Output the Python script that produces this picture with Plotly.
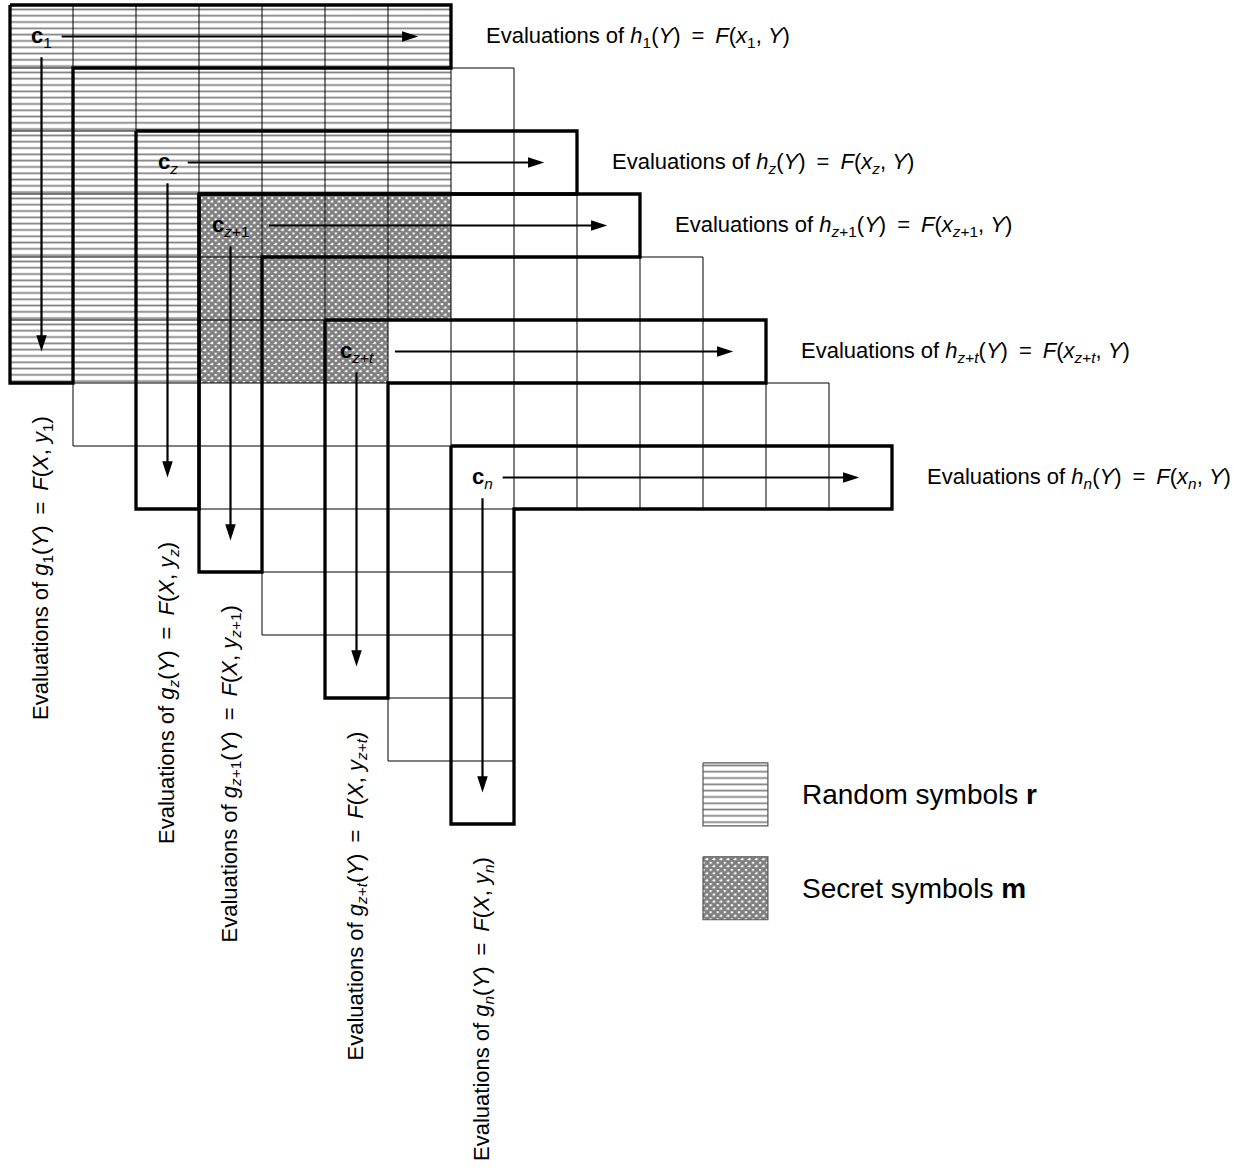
import plotly.graph_objects as go

# ---------------- data ----------------
N_L = 8            # number of L-shaped codewords
ROW_LEN = 7        # cells in the horizontal arm of each L
COL_LEN = 6        # cells in the vertical arm of each L
thick = [True, False, True, True, False, True, False, True]
c_labels = ["<b>c</b><sub>1</sub>", "", "<b>c</b><sub><i>z</i></sub>",
            "<b>c</b><sub><i>z</i>+1</sub>", "", "<b>c</b><sub><i>z</i>+<i>t</i></sub>",
            "", "<b>c</b><sub><i>n</i></sub>"]
EQ = "&#8194;=&#8194;"
h_labels = ["<i>h</i><sub>1</sub>(<i>Y</i>)" + EQ + "<i>F</i>(<i>x</i><sub>1</sub>, <i>Y</i>)", "",
            "<i>h<sub>z</sub></i>(<i>Y</i>)" + EQ + "<i>F</i>(<i>x<sub>z</sub></i>, <i>Y</i>)",
            "<i>h</i><sub><i>z</i>+1</sub>(<i>Y</i>)" + EQ + "<i>F</i>(<i>x</i><sub><i>z</i>+1</sub>, <i>Y</i>)", "",
            "<i>h</i><sub><i>z</i>+<i>t</i></sub>(<i>Y</i>)" + EQ + "<i>F</i>(<i>x</i><sub><i>z</i>+<i>t</i></sub>, <i>Y</i>)", "",
            "<i>h<sub>n</sub></i>(<i>Y</i>)" + EQ + "<i>F</i>(<i>x<sub>n</sub></i>, <i>Y</i>)"]
g_labels = ["<i>g</i><sub>1</sub>(<i>Y</i>)" + EQ + "<i>F</i>(<i>X</i>, <i>y</i><sub>1</sub>)", "",
            "<i>g<sub>z</sub></i>(<i>Y</i>)" + EQ + "<i>F</i>(<i>X</i>, <i>y<sub>z</sub></i>)",
            "<i>g</i><sub><i>z</i>+1</sub>(<i>Y</i>)" + EQ + "<i>F</i>(<i>X</i>, <i>y</i><sub><i>z</i>+1</sub>)", "",
            "<i>g</i><sub><i>z</i>+<i>t</i></sub>(<i>Y</i>)" + EQ + "<i>F</i>(<i>X</i>, <i>y</i><sub><i>z</i>+<i>t</i></sub>)", "",
            "<i>g<sub>n</sub></i>(<i>Y</i>)" + EQ + "<i>F</i>(<i>X</i>, <i>y<sub>n</sub></i>)"]
LABEL_PREFIX = "Evaluations of "
# hatched regions, per row: [col_start, col_end)
random_rows = [0, 1, 2, 3, 4, 5]
random_col_start = [0, 0, 0, 0, 0, 0]
random_col_end = [7, 7, 7, 3, 3, 3]
secret_rows = [3, 4, 5]
secret_col_start = [3, 3, 3]
secret_col_end = [7, 7, 6]
legend_labels = ["Random symbols <b>r</b>", "Secret symbols <b>m</b>"]

FONT = "Liberation Sans, Arial, sans-serif"
RANDOM_PAT = dict(shape="-", size=6.3, solidity=0.27, fgcolor="black", bgcolor="white")
SECRET_PAT = dict(shape="x", size=5, solidity=0.8, fgcolor="black", bgcolor="white")

fig = go.Figure()


def rect(x0, x1, y0, y1):
    return [x0, x1, x1, x0, x0], [y0, y0, y1, y1, y0]


def add_fill(xs, ys, pat):
    fig.add_trace(go.Scatter(x=xs, y=ys, mode="lines", fill="toself", line=dict(width=0),
                             fillpattern=pat, hoverinfo="skip", showlegend=False))


for r, c0, c1 in zip(random_rows, random_col_start, random_col_end):
    add_fill(*rect(c0, c1, r, r + 1), RANDOM_PAT)
for r, c0, c1 in zip(secret_rows, secret_col_start, secret_col_end):
    add_fill(*rect(c0, c1, r, r + 1), SECRET_PAT)

# thin grid lines inside every L
gx, gy = [], []
for i in range(N_L):
    for k in range(1, ROW_LEN):
        gx += [i + k, i + k, None]
        gy += [i, i + 1, None]
    for k in range(1, COL_LEN):
        gx += [i, i + 1, None]
        gy += [i + k, i + k, None]
fig.add_trace(go.Scatter(x=gx, y=gy, mode="lines", line=dict(color="black", width=1),
                         hoverinfo="skip", showlegend=False))


def outline(i):
    xs = [i, i + ROW_LEN, i + ROW_LEN, i + 1, i + 1, i, i]
    ys = [i, i, i + 1, i + 1, i + COL_LEN, i + COL_LEN, i]
    return xs, ys


for i in range(N_L):
    if not thick[i]:
        xs, ys = outline(i)
        fig.add_trace(go.Scatter(x=xs, y=ys, mode="lines", line=dict(color="black", width=1),
                                 hoverinfo="skip", showlegend=False))
for i in range(N_L):
    if thick[i]:
        xs, ys = outline(i)
        fig.add_trace(go.Scatter(x=xs, y=ys, mode="lines", line=dict(color="black", width=3.3),
                                 hoverinfo="skip", showlegend=False))

# arrows: shafts + arrowheads
sx, sy, hx, hy, hang = [], [], [], [], []
for i in range(N_L):
    if not thick[i]:
        continue
    start = 1.11 if "+" in c_labels[i] else 0.82
    sx += [i + start, i + 6.36, None, i + 0.5, i + 0.5, None]
    sy += [i + 0.5, i + 0.5, None, i + 0.83, i + 5.38, None]
    hx += [i + 6.48, i + 0.5]
    hy += [i + 0.5, i + 5.5]
    hang += [90, 180]
fig.add_trace(go.Scatter(x=sx, y=sy, mode="lines", line=dict(color="black", width=2.2),
                         hoverinfo="skip", showlegend=False))
fig.add_trace(go.Scatter(x=hx, y=hy, mode="markers",
                         marker=dict(symbol="arrow", size=17, angle=hang, color="black",
                                     line=dict(width=0)),
                         hoverinfo="skip", showlegend=False))

# legend squares
LEG_X0, LEG_X1 = 11.0, 12.03
leg_y = [12.03, 13.52]
for yy, pat in zip(leg_y, [RANDOM_PAT, SECRET_PAT]):
    add_fill(*rect(LEG_X0, LEG_X1, yy, yy + 1.0), pat)
    xs, ys = rect(LEG_X0, LEG_X1, yy, yy + 1.0)
    fig.add_trace(go.Scatter(x=xs, y=ys, mode="lines", line=dict(color="#555", width=1.2),
                             hoverinfo="skip", showlegend=False))

ann = []
for i in range(N_L):
    if not thick[i]:
        continue
    ann.append(dict(x=i + 0.5, y=i + 0.5, text=c_labels[i], showarrow=False,
                    font=dict(size=22, family=FONT, color="black"),
                    xanchor="center", yanchor="middle"))
    ann.append(dict(x=i + ROW_LEN + 0.52, y=i + 0.5, text=LABEL_PREFIX + h_labels[i], showarrow=False,
                    font=dict(size=22, family=FONT, color="black"),
                    xanchor="left", yanchor="middle"))
    ann.append(dict(x=i + 0.5, y=i + COL_LEN + 0.5, text=LABEL_PREFIX + g_labels[i], showarrow=False,
                    textangle=-90, font=dict(size=22, family=FONT, color="black"),
                    xanchor="center", yanchor="top"))

for yy, lab in zip(leg_y, legend_labels):
    ann.append(dict(x=12.54, y=yy + 0.5, text=lab, showarrow=False,
                    font=dict(size=28, family=FONT, color="black"),
                    xanchor="left", yanchor="middle"))

W, H = 1249, 1176
CELL, X0, Y0 = 63.0, 10.0, 5.0
fig.update_layout(
    width=W, height=H, margin=dict(l=0, r=0, t=0, b=0),
    paper_bgcolor="white", plot_bgcolor="white",
    xaxis=dict(range=[-X0 / CELL, (W - X0) / CELL], visible=False, fixedrange=True),
    yaxis=dict(range=[(H - Y0) / CELL, -Y0 / CELL], visible=False, fixedrange=True),
    annotations=ann, showlegend=False,
)

fig.write_html("out.html", config={"displayModeBar": False},
               post_script="document.body.style.margin='0';document.body.style.overflow='hidden';")
